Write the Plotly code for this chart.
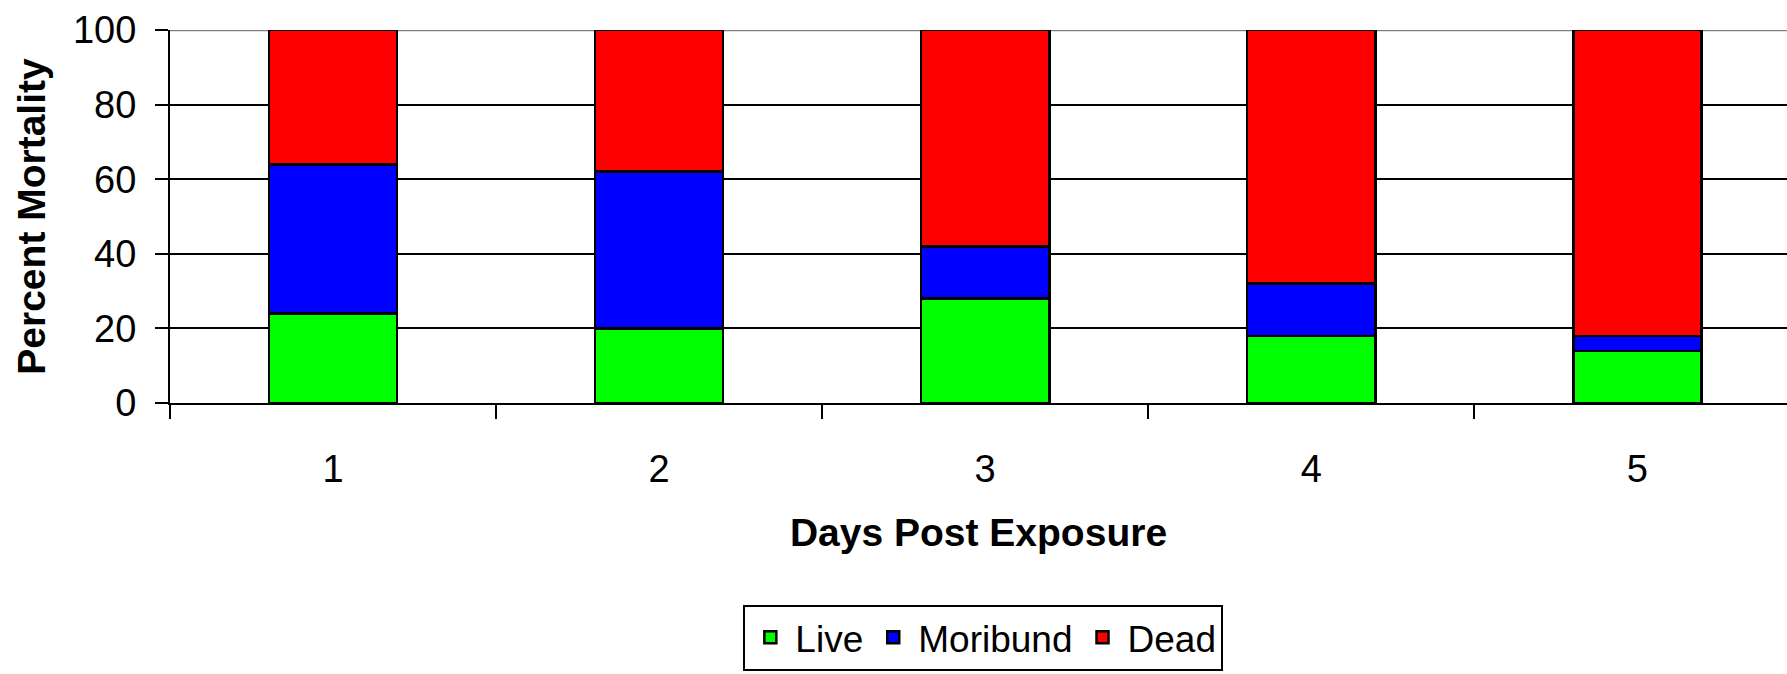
import plotly.graph_objects as go

days = ["1", "2", "3", "4", "5"]
live = [24, 20, 28, 18, 14]
moribund = [40, 42, 14, 14, 4]
dead = [36, 38, 58, 68, 82]

series = [("Live", live, "#00FF00"), ("Moribund", moribund, "#0000FF"), ("Dead", dead, "#FF0000")]

FONT = "Arial, Liberation Sans, sans-serif"

fig = go.Figure()
for name, vals, color in series:
    fig.add_trace(go.Bar(
        x=days, y=vals, name=name,
        marker=dict(color=color, line=dict(color="black", width=2.5)),
    ))

fig.update_layout(
    width=1787, height=674,
    barmode="stack", bargap=0.607,
    paper_bgcolor="white", plot_bgcolor="white",
    margin=dict(l=170, r=0, t=30, b=271),
    font=dict(family=FONT, size=37, color="black"),
    showlegend=True,
    legend=dict(
        orientation="h", traceorder="normal",
        x=0.503, xanchor="center", y=-0.541, yanchor="top",
        bordercolor="black", borderwidth=2,
        font=dict(family=FONT, size=37, color="black"),
        itemwidth=40,
    ),
    xaxis=dict(
        type="category", range=[-0.5, 4.459],
        tickson="boundaries", ticks="outside", ticklen=14, tickwidth=2, tickcolor="black",
        showline=True, linecolor="black", linewidth=2,
        showgrid=False, ticklabelstandoff=31,
        tickfont=dict(family=FONT, size=38),
        title=dict(text="Days Post Exposure", standoff=30,
                   font=dict(family=FONT, size=39, weight="bold")),
        automargin=False,
    ),
    yaxis=dict(
        range=[0, 100], dtick=20, tick0=0,
        ticks="outside", ticklen=13, tickwidth=2, tickcolor="black",
        showline=True, linecolor="black", linewidth=2,
        showgrid=True, gridcolor="black", gridwidth=2, zeroline=False,
        ticklabelstandoff=11,
        tickfont=dict(family=FONT, size=38),
        title=dict(text="Percent Mortality", standoff=15,
                   font=dict(family=FONT, size=39, weight="bold")),
        automargin=False,
    ),
)

fig.add_shape(type="line", xref="paper", yref="y", x0=0, x1=1, y0=100, y1=100,
              line=dict(color="#808080", width=2.5), layer="between")

fig.write_html(
    "out.html",
    config={"displayModeBar": False},
    post_script="document.body.style.margin='0';document.body.style.overflow='hidden';",
)
